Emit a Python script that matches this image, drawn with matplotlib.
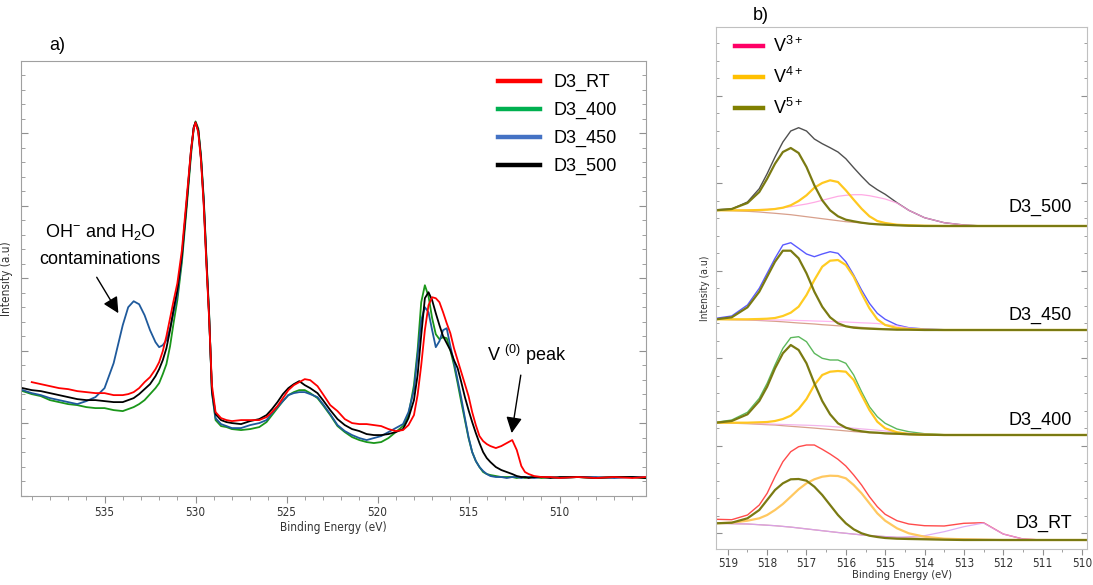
import matplotlib
matplotlib.use('Agg')
import matplotlib.pyplot as plt
from matplotlib.lines import Line2D
from matplotlib.ticker import MultipleLocator, FixedLocator, NullFormatter
import numpy as np

plt.rcParams['font.family'] = ['Liberation Sans', 'DejaVu Sans']
plt.rcParams['mathtext.fontset'] = 'custom'
plt.rcParams['mathtext.rm'] = 'Liberation Sans'
plt.rcParams['mathtext.it'] = 'Liberation Sans:italic'
plt.rcParams['mathtext.bf'] = 'Liberation Sans:bold'

# ---------------- panel a: O 1s / V 2p survey (intensity, a.u.) ----------------
energy_a = [539.5, 539.0, 538.5, 538.0, 537.5, 537.0, 536.5, 536.0, 535.5, 535.0,
            534.5, 534.0, 533.7, 533.4, 533.1, 532.8, 532.5, 532.2, 532.0,
            531.8, 531.6, 531.4, 531.2, 531.0, 530.75, 530.5, 530.25, 530.1, 530.0,
            529.85, 529.7, 529.55, 529.4, 529.25, 529.1, 528.9, 528.6, 528.3, 528.0,
            527.5, 527.0, 526.5, 526.1, 525.8, 525.5, 525.2, 524.9, 524.6, 524.3, 524.0,
            523.7, 523.3, 523.0, 522.6, 522.2, 521.8, 521.4, 521.0, 520.6, 520.2,
            519.8, 519.4, 519.0, 518.6, 518.3, 518.0, 517.8, 517.6, 517.4, 517.2, 517.0,
            516.8, 516.6, 516.4, 516.2, 516.0, 515.8, 515.6, 515.4, 515.2, 515.0,
            514.8, 514.6, 514.4, 514.2, 514.0, 513.8, 513.5, 513.2, 512.9, 512.6,
            512.35, 512.1, 511.9, 511.7, 511.4, 511.0, 510.5, 510.0,
            509.0, 508.0, 507.0, 506.0, 505.3]

d3_rt = [np.nan, 114, 112, 110, 108, 107, 105, 104, 103, 103,
         101, 101, 102, 104, 108, 114, 119, 127, 134,
         145, 160, 178, 196, 213, 246, 296, 346, 368, 374,
         364, 336, 291, 231, 176, 111, 84, 78, 76, 75,
         76, 76, 76, 79, 84, 90, 98, 106, 111, 114, 117,
         116, 110, 102, 91, 85, 77, 73, 72, 72, 71,
         70, 67, 65, 66, 71, 81, 101, 131, 166, 191, 199,
         198, 194, 184, 173, 163, 148, 136, 124, 112, 100,
         84, 71, 60, 55, 52, 50, 48, 50, 53, 56,
         46, 30, 24, 22, 20, 19, 19, 18,
         19, 18, 19, 18, 19]

d3_400 = [105, 102, 100, 96, 94, 92, 91, 89, 88, 88,
          86, 85, 87, 89, 92, 96, 102, 108, 113,
          122, 132, 150, 174, 196, 234, 286, 341, 368, 375,
          368, 341, 298, 238, 181, 104, 76, 70, 69, 67,
          66, 67, 69, 74, 81, 88, 95, 101, 104, 106, 106,
          103, 98, 91, 81, 70, 64, 59, 56, 54, 53,
          54, 58, 64, 70, 81, 111, 146, 194, 211, 200, 178,
          162, 157, 159, 158, 146, 131, 113, 94, 76, 58,
          44, 35, 29, 24, 22, 21, 20, 19, 19, 19,
          18, 19, 18, 19, 19, 18, 19, 18,
          19, 18, 19, 19, 18]

d3_450 = [106, 103, 101, 98, 96, 94, 92, 95, 99, 108,
          133, 171, 189, 195, 192, 181, 166, 154, 149,
          151, 156, 168, 184, 201, 238, 291, 344, 369, 374,
          366, 338, 296, 236, 180, 104, 78, 72, 70, 68,
          68, 71, 73, 76, 83, 89, 95, 101, 103, 104, 104,
          102, 99, 92, 82, 71, 65, 61, 58, 56, 58,
          60, 64, 68, 72, 84, 106, 141, 176, 189, 184, 166,
          149, 155, 166, 168, 150, 134, 116, 98, 78, 59,
          44, 35, 29, 25, 22, 20, 19, 19, 18, 19,
          19, 18, 19, 19, 18, 19, 19, 18,
          19, 19, 18, 19, 19]

d3_500 = [108, 106, 105, 103, 101, 99, 97, 96, 96, 95,
          94, 94, 96, 98, 102, 107, 112, 120, 127,
          136, 148, 166, 188, 206, 241, 291, 346, 369, 374,
          366, 338, 294, 234, 178, 106, 82, 76, 74, 73,
          72, 75, 77, 81, 87, 94, 102, 108, 112, 115, 111,
          108, 103, 96, 86, 77, 71, 67, 65, 62, 61,
          61, 62, 64, 67, 78, 96, 121, 161, 198, 204, 196,
          183, 171, 160, 153, 146, 136, 128, 114, 99, 86,
          74, 63, 53, 44, 38, 34, 29, 26, 24, 22,
          20, 19, 19, 18, 19, 19, 18, 19,
          19, 18, 19, 19, 18]

labels_a = ['D3_RT', 'D3_400', 'D3_450', 'D3_500']
legend_colors_a = ['#ff0000', '#00b050', '#4472c4', '#000000']

# ---------------- panel b: V 2p3/2 fits (relative to each baseline) ----------------
energy_b = [519.3, 518.9, 518.5, 518.2, 518.0, 517.8, 517.6, 517.4, 517.2, 517.0,
            516.8, 516.6, 516.4, 516.2, 516.0, 515.8, 515.6, 515.4, 515.2, 515.0,
            514.7, 514.4, 514.0, 513.5, 513.0, 512.5, 512.0, 511.5, 511.0, 509.9]

b500_env = [16.3, 17, 24, 37.3, 52.3, 69, 84, 95, 98.3, 95,
            87, 82.3, 78.3, 74, 67.3, 58.3, 49.7, 41.7, 36.3, 31.7,
            23.3, 15.7, 8.3, 3.3, 1, 0, 0, 0, 0, 0]
b500_v5 = [15.7, 17, 23, 34, 47.3, 62.3, 74, 78, 73, 59,
           40.7, 25.7, 15.7, 9.7, 6.3, 4.7, 3.3, 2.3, 1.7, 1.3,
           0.7, 0.3, 0, 0, 0, 0, 0, 0, 0, 0]
b500_v4 = [15.7, 15.7, 15.7, 16, 16.3, 17, 18.3, 20.7, 25, 30.7,
           38.3, 43, 45.7, 44, 35.7, 26.3, 17.3, 9.7, 5, 3,
           1.3, 0.7, 0.3, 0, 0, 0, 0, 0, 0, 0]
b500_v3 = [15.7, 15.7, 16, 16.3, 16.7, 17.3, 18.3, 19.3, 20.7, 22,
           23.7, 25.7, 27.7, 29.7, 30.7, 31.3, 31.3, 30.3, 28.7, 27,
           23, 15.7, 8.3, 3.3, 1, 0, 0, 0, 0, 0]
b500_bg = [15.7, 15.3, 14.7, 14, 13.3, 12.7, 12, 11.3, 10.3, 9.3,
           8.3, 7.3, 6.3, 5.3, 4.3, 3.7, 3, 2.3, 1.7, 1.3,
           0.7, 0.3, 0, 0, 0, 0, 0, 0, 0, 0]

b450_env = [11.7, 14, 25, 41.7, 56.7, 71.7, 85, 87.3, 81.7, 76,
            73.3, 76, 78.3, 76.7, 68.3, 55, 40, 26.7, 16.7, 10.7,
            5, 2.3, 1, 0.3, 0, 0, 0, 0, 0, 0]
b450_v5 = [10.7, 12.7, 22.7, 38.3, 53.3, 68.3, 79.3, 79.3, 71.7, 56.7,
           38.3, 23.3, 12.7, 6.7, 3.7, 2.3, 1.7, 1.3, 1, 0.7,
           0.3, 0.3, 0, 0, 0, 0, 0, 0, 0, 0]
b450_v4 = [10.7, 10.7, 10.7, 11, 11.3, 12, 14, 17.3, 23.3, 35,
           50, 63.3, 69.3, 70, 65, 53.3, 36.7, 21.7, 10.7, 5,
           2, 1, 0.3, 0, 0, 0, 0, 0, 0, 0]
b450_v3 = [10.7, 10.5, 10.3, 10.2, 10, 10, 10, 9.8, 9.5, 9.3,
           9, 8.8, 8.5, 8.2, 8, 7.6, 7.2, 6.9, 6.5, 5.5,
           4, 2, 0.7, 0, 0, 0, 0, 0, 0, 0]
b450_bg = [10.7, 10.3, 10, 9.5, 9.1, 8.7, 8.2, 7.6, 7, 6.5,
           6, 5.3, 4.8, 4.2, 3.7, 3.2, 2.6, 2, 1.6, 1.3,
           0.7, 0.3, 0, 0, 0, 0, 0, 0, 0, 0]

b400_env = [12.7, 15, 22.7, 36.7, 51.7, 70, 86.7, 97.3, 98.3, 93.3,
            81.7, 76.7, 75, 75, 71.7, 60, 43.3, 28.3, 18.3, 11.7,
            6, 3.3, 1.3, 0.3, 0, 0, 0, 0, 0, 0]
b400_v5 = [12.3, 14, 20.7, 34, 48.3, 66.7, 81.7, 90, 85, 71.7,
           51.7, 34, 20.7, 11.7, 7.3, 5, 3.7, 2.7, 2.3, 1.7,
           1.3, 0.7, 0.3, 0, 0, 0, 0, 0, 0, 0]
b400_v4 = [12.3, 12.3, 12.3, 12.7, 13, 14, 16, 19.3, 26, 36,
           50, 60, 63.3, 64, 63.3, 55, 40, 25, 13.3, 6.7,
           2.7, 1, 0.3, 0, 0, 0, 0, 0, 0, 0]
b400_v3 = [12.3, 12, 11.7, 11.3, 11.1, 10.8, 10.5, 10.3, 10, 9.8,
           9.5, 9.1, 8.6, 8, 7.4, 6.8, 6.1, 5.5, 4.8, 4,
           2.8, 1.8, 0.8, 0, 0, 0, 0, 0, 0, 0]
b400_bg = [12.3, 11.8, 11.3, 10.7, 10.3, 10, 9.3, 8.7, 8.1, 7.5,
           6.9, 6.2, 5.5, 4.8, 4.1, 3.4, 2.8, 2.3, 1.9, 1.3,
           0.7, 0.3, 0, 0, 0, 0, 0, 0, 0, 0]

brt_env = [20.7, 20.3, 25, 35, 46.7, 63.3, 78.3, 88.3, 93.3, 95,
           95, 90.7, 86, 80.7, 74, 65, 55, 43.3, 33.3, 25.7,
           19.3, 16, 14.3, 14, 16.7, 17.3, 6, 1, 0, 0]
brt_v5 = [16.7, 17.3, 21.7, 30, 40, 50, 56.7, 60.7, 61, 59.3,
          53.3, 45, 35, 25, 16.7, 10.7, 6.7, 4.3, 3, 2,
          1.3, 1, 0.7, 0.3, 0, 0, 0, 0, 0, 0]
brt_v4 = [16.7, 17.3, 19.3, 21.7, 25, 30, 36, 43.3, 50.7, 56.7,
          60.7, 63.3, 64.3, 64, 61.7, 55, 46.7, 36.7, 26.7, 19.3,
          11.7, 6.7, 3.3, 1.3, 0.7, 0.3, 0, 0, 0, 0]
brt_v3 = [16.7, 16.3, 16, 15.3, 14.8, 14.3, 13.6, 12.9, 12, 11.1,
          10.2, 9.3, 8.4, 7.5, 6.7, 5.9, 5.1, 4.5, 3.9, 3.4,
          2.8, 3.3, 4.3, 8.3, 13.3, 17, 6, 1, 0, 0]
brt_bg = [16.7, 16.3, 16, 15.3, 14.8, 14.3, 13.6, 12.9, 12, 11.1,
          10.2, 9.3, 8.4, 7.5, 6.7, 5.9, 5.1, 4.5, 3.9, 3.4,
          2.6, 2.2, 1.6, 1.2, 0.9, 0.6, 0.3, 0.1, 0, 0]

names_b = ['D3_500', 'D3_450', 'D3_400', 'D3_RT']
offsets_b = [323, 219, 114, 9]
env_colors = ['#505050', '#5a5aff', '#5cb85c', '#ff4b4b']
v3_colors = ['#ff9be0', '#ffaaf0', '#f0a8e8', '#d9a0f5']
v4_colors = ['#ffc820', '#ffcc22', '#ffc820', '#ffc860']
V5_COLOR = '#7a7a12'
BG_COLOR = '#d8a08c'

fig = plt.figure(figsize=(10.93, 5.85), dpi=100)
W, H = 1093.0, 585.0

def px_axes(l, t, r, b):
    return fig.add_axes([l / W, 1 - b / H, (r - l) / W, (b - t) / H])

tick_font = dict(family=['DejaVu Sans'], stretch='condensed')

# ---------------- panel a ----------------
ax = px_axes(21, 61, 646, 496)
ax.plot(energy_a, d3_400, color='#1a961a', lw=1.3)
ax.plot(energy_a, d3_450, color='#1f5a9c', lw=1.3)
ax.plot(energy_a, d3_500, color='#000000', lw=1.3)
ax.plot(energy_a, d3_rt, color='#ff0000', lw=1.3)
ax.set_xlim(539.59, 505.25)
ax.set_ylim(0, 435.5)
ax.xaxis.set_major_locator(MultipleLocator(5))
ax.xaxis.set_minor_locator(MultipleLocator(1))
ax.yaxis.set_major_locator(MultipleLocator(72.6))
ax.yaxis.set_minor_locator(MultipleLocator(14.52))
ax.yaxis.set_major_formatter(NullFormatter())
ax.tick_params(axis='both', which='both', colors='#909090', labelcolor='#333333')
ax.tick_params(axis='x', which='major', length=5, labelsize=8.5, pad=2)
ax.tick_params(axis='x', which='minor', length=3)
ax.tick_params(axis='y', which='major', length=5, right=True, direction='in')
ax.tick_params(axis='y', which='minor', length=3, right=True, direction='in')
for lab in ax.get_xticklabels():
    lab.set_fontfamily('DejaVu Sans')
    lab.set_fontstretch('condensed')
for s in ax.spines.values():
    s.set_color('#a0a0a0')
ax.set_xlabel('Binding Energy (eV)', fontsize=8.5, color='#333333', labelpad=2, **tick_font)
ax.set_ylabel('Intensity (a.u)', fontsize=8.5, color='#333333', labelpad=2, **tick_font)

handles_a = [Line2D([], [], color=c, lw=3.2) for c in legend_colors_a]
ax.legend(handles_a, labels_a, loc='upper left', bbox_to_anchor=(498 / W, 1 - 74 / H),
          bbox_transform=fig.transFigure, frameon=False, fontsize=13,
          handlelength=2.3, handletextpad=0.8, labelspacing=0.6,
          borderpad=0, borderaxespad=0)

ax.text(535.25, 264, r'OH$^{\mathregular{-}}$ and H$_{\mathregular{2}}$O', fontsize=13,
        ha='center', va='center')
ax.text(535.25, 237, 'contaminations', fontsize=13, ha='center', va='center')
ax.annotate('', xy=(534.24, 183), xytext=(535.43, 219),
            arrowprops=dict(arrowstyle='-|>', color='black', lw=1, mutation_scale=24,
                            shrinkA=0, shrinkB=0))
ax.text(511.81, 141, r'V $^{\mathregular{(0)}}$ peak', fontsize=13, ha='center', va='center')
ax.annotate('', xy=(512.63, 63), xytext=(512.13, 121),
            arrowprops=dict(arrowstyle='-|>', color='black', lw=1, mutation_scale=24,
                            shrinkA=0, shrinkB=0))
fig.text(57 / W, 1 - 45 / H, 'a)', fontsize=13, ha='center', va='center')

# ---------------- panel b ----------------
bx = px_axes(716, 27, 1087, 549)
series_b = [
    (b500_env, b500_v5, b500_v4, b500_v3, b500_bg),
    (b450_env, b450_v5, b450_v4, b450_v3, b450_bg),
    (b400_env, b400_v5, b400_v4, b400_v3, b400_bg),
    (brt_env, brt_v5, brt_v4, brt_v3, brt_bg),
]
eb = np.array(energy_b)
for i, (env, v5, v4, v3, bg) in enumerate(series_b):
    off = offsets_b[i]
    bx.plot(eb, np.array(bg) + off, color=BG_COLOR, lw=0.9)
    bx.plot(eb, np.array(env) + off, color=env_colors[i], lw=1.0)
    bx.plot(eb, np.array(v3) + off, color=v3_colors[i], lw=0.9, alpha=0.85)
    bx.plot(eb, np.array(v4) + off, color=v4_colors[i], lw=1.6)
    bx.plot(eb, np.array(v5) + off, color=V5_COLOR, lw=1.6)

label_y = [342, 234, 129, 26]
for name, ly in zip(names_b, label_y):
    bx.text(510.25, ly, name, fontsize=13, ha='right', va='center')

bx.set_xlim(519.3, 509.87)
bx.set_ylim(0, 522)
bx.xaxis.set_major_locator(MultipleLocator(1))
bx.xaxis.set_minor_locator(MultipleLocator(0.5))
bx.yaxis.set_major_locator(FixedLocator(list(np.arange(16, 522, 87.5))))
bx.yaxis.set_minor_locator(FixedLocator(list(np.arange(16, 522, 17.5))))
bx.yaxis.set_major_formatter(NullFormatter())
bx.tick_params(axis='both', which='both', colors='#909090', labelcolor='#333333')
bx.tick_params(axis='x', which='major', length=4, labelsize=8.5, pad=2)
bx.tick_params(axis='x', which='minor', length=2.5)
bx.tick_params(axis='y', which='major', length=4, right=True, direction='in')
bx.tick_params(axis='y', which='minor', length=2.5, right=True, direction='in')
for lab in bx.get_xticklabels():
    lab.set_fontfamily('DejaVu Sans')
    lab.set_fontstretch('condensed')
for s in bx.spines.values():
    s.set_color('#c0c0c0')
bx.set_xlabel('Binding Energy (eV)', fontsize=8, color='#333333', labelpad=0, **tick_font)
bx.set_ylabel('Intensity (a.u)', fontsize=7.5, color='#333333', labelpad=1, **tick_font)

handles_b = [Line2D([], [], color=c, lw=3.2) for c in ['#ff0066', '#ffc000', '#808000']]
labels_b = [r'V$^{\mathregular{3+}}$', r'V$^{\mathregular{4+}}$', r'V$^{\mathregular{5+}}$']
bx.legend(handles_b, labels_b, loc='upper left', bbox_to_anchor=(735 / W, 1 - 36 / H),
          bbox_transform=fig.transFigure, frameon=False, fontsize=13,
          handlelength=1.55, handletextpad=0.55, labelspacing=0.6,
          borderpad=0, borderaxespad=0)
fig.text(761 / W, 1 - 15 / H, 'b)', fontsize=13, ha='center', va='center')

fig.savefig('out.png', dpi=100)
